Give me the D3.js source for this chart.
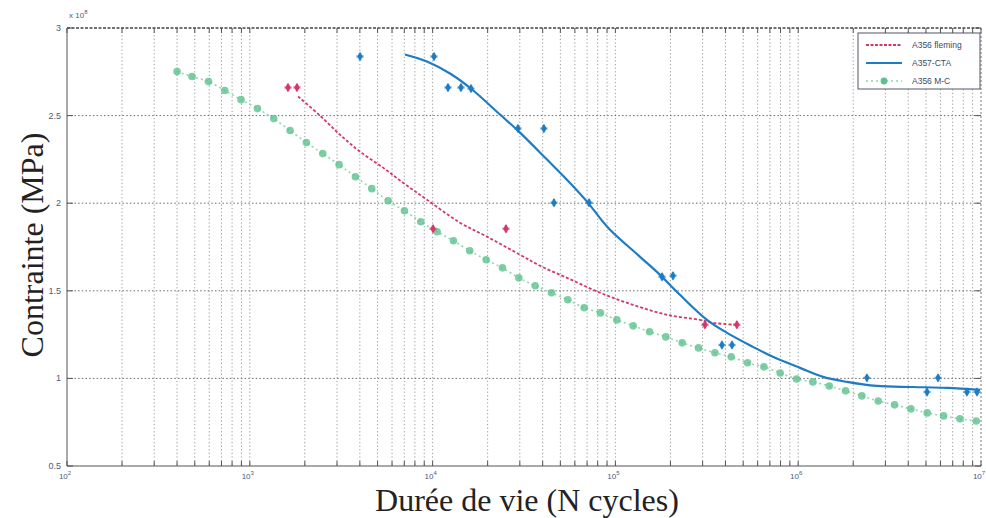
<!DOCTYPE html>
<html>
<head>
<meta charset="utf-8">
<script src="https://cdn.jsdelivr.net/npm/d3@7"></script>
<style>
  html, body { margin: 0; padding: 0; background: #fff; }
  svg { display: block; }
</style>
</head>
<body>
<svg id="chart" width="986" height="518"></svg>
<script>
// ---- data (stress in units of 10^8, N in cycles) ----
const seriesNames = ["A356 fleming", "A357-CTA", "A356 M-C"];

// A356 M-C (green, dotted with markers)
const mcN = [400, 483, 594, 730, 896, 1101, 1352, 1661, 2040, 2506,
  3080, 3783, 4647, 5710, 7015, 8617, 10590, 13000, 15970, 19630,
  24110, 29620, 36390, 44700, 54920, 67470, 82880, 101800, 125100, 153700,
  188800, 231900, 285000, 350100, 430100, 528400, 649100, 797400, 979600, 1203000,
  1479000, 1816000, 2231000, 2741000, 3367000, 4136000, 5081000, 6242000, 7668000, 9420000];
const mcS = [2.751, 2.723, 2.694, 2.643, 2.591, 2.540, 2.483, 2.415, 2.346, 2.283,
  2.220, 2.151, 2.083, 2.014, 1.957, 1.894, 1.837, 1.786, 1.729, 1.677,
  1.631, 1.574, 1.529, 1.489, 1.449, 1.403, 1.374, 1.334, 1.300, 1.266,
  1.237, 1.203, 1.174, 1.146, 1.123, 1.089, 1.066, 1.031, 0.997, 0.980,
  0.957, 0.929, 0.900, 0.871, 0.849, 0.826, 0.803, 0.786, 0.769, 0.757];

// A356 fleming (red) fitted curve
const flCurveN = [1837, 2421, 3113, 4009, 5355, 6887, 9313, 14120, 19850, 30070,
  38700, 54330, 82370, 124800, 191500, 290300, 342000, 462500];
const flCurveS = [2.609, 2.500, 2.391, 2.294, 2.203, 2.117, 2.020, 1.889, 1.809, 1.706,
  1.643, 1.574, 1.489, 1.420, 1.363, 1.334, 1.317, 1.306];
// A356 fleming test points
const flPtsN = [1618, 1812, 10050, 25200, 309000, 462000];
const flPtsS = [2.66, 2.66, 1.854, 1.854, 1.306, 1.306];

// A357-CTA (blue) fitted curve
const ctaCurveN = [7063, 9313, 12450, 16430, 23380, 30070, 42260, 54330, 69960, 91200,
  136400, 175400, 225500, 316900, 408000, 566000, 727800, 1023000, 1367000, 1849000,
  2698000, 4246000, 6516000, 9880000];
const ctaCurveS = [2.849, 2.809, 2.740, 2.649, 2.506, 2.403, 2.249, 2.134, 2.009, 1.860,
  1.694, 1.591, 1.477, 1.334, 1.260, 1.180, 1.123, 1.060, 1.009, 0.980,
  0.957, 0.951, 0.946, 0.934];
// A357-CTA test points
const ctaPtsN = [4009, 10180, 12140, 14290, 16220, 29310, 40650, 46130, 71750, 179900,
  206600, 382800, 434500, 2377000, 5069000, 5821000, 8380000, 9510000];
const ctaPtsS = [2.837, 2.837, 2.66, 2.66, 2.654, 2.426, 2.426, 2.003, 2.003, 1.58,
  1.586, 1.191, 1.191, 1.003, 0.923, 1.003, 0.923, 0.923];

const yTicks = [0.5, 1, 1.5, 2, 2.5, 3];
const yTickLabels = ["0.5", "1", "1.5", "2", "2.5", "3"];
const xDecades = [2, 3, 4, 5, 6, 7];

// ---- layout ----
const svg = d3.select("#chart");
const L = 67, R = 981, T = 28, B = 466;
const x = d3.scaleLog().domain([1e2, 1e7]).range([L, R]);
const y = d3.scaleLinear().domain([0.5, 3]).range([B, T]);

const colRed = "#d4386a", colBlue = "#1d7cc4", colGreen = "#5cc18f", colGreenLine = "#8fd8b2";

// grid
const xt = x.ticks();
svg.append("g").selectAll("line").data(xt.filter(d => d > 1e2 && d < 1e7)).join("line")
  .attr("x1", d => x(d)).attr("x2", d => x(d)).attr("y1", T).attr("y2", B)
  .attr("stroke", "#999").attr("stroke-width", 1).attr("stroke-dasharray", "1.2,2.4");
svg.append("g").selectAll("line").data(yTicks.filter(d => d > 0.5 && d < 3)).join("line")
  .attr("x1", L).attr("x2", R).attr("y1", d => y(d)).attr("y2", d => y(d))
  .attr("stroke", "#6a6a6a").attr("stroke-width", 1).attr("stroke-dasharray", "1.5,2.2");

// frame
svg.append("line").attr("x1", L).attr("x2", L).attr("y1", T).attr("y2", B).attr("stroke", "#555").attr("stroke-width", 1);
svg.append("line").attr("x1", L).attr("x2", R).attr("y1", B).attr("y2", B).attr("stroke", "#555").attr("stroke-width", 1.2);
svg.append("line").attr("x1", L).attr("x2", R).attr("y1", T).attr("y2", T).attr("stroke", "#444").attr("stroke-width", 1.6).attr("stroke-dasharray", "3,1.5");
svg.append("line").attr("x1", R).attr("x2", R).attr("y1", T).attr("y2", B).attr("stroke", "#777").attr("stroke-width", 1).attr("stroke-dasharray", "2,2");

// ticks
const tk = svg.append("g").attr("stroke", "#555").attr("stroke-width", 1);
xt.forEach(d => {
  tk.append("line").attr("x1", x(d)).attr("x2", x(d)).attr("y1", B).attr("y2", B - 5);
  tk.append("line").attr("x1", x(d)).attr("x2", x(d)).attr("y1", T).attr("y2", T + 5);
});
yTicks.forEach(d => {
  tk.append("line").attr("x1", L).attr("x2", L + 6).attr("y1", y(d)).attr("y2", y(d));
  tk.append("line").attr("x1", R).attr("x2", R - 6).attr("y1", y(d)).attr("y2", y(d));
});

// tick labels
svg.append("g").selectAll("text").data(yTicks).join("text")
  .attr("x", L - 6).attr("y", d => y(d) + 3)
  .attr("text-anchor", "end").attr("font-family", "Arial, 'Liberation Sans', sans-serif")
  .attr("font-size", 9).attr("fill", "#4a5a78")
  .text((d, i) => yTickLabels[i]);

const xl = svg.append("g").selectAll("text").data(xDecades).join("text")
  .attr("x", d => x(Math.pow(10, d)) - 2).attr("y", B + 13)
  .attr("text-anchor", "middle").attr("font-family", "Arial, 'Liberation Sans', sans-serif")
  .attr("font-size", 8).attr("fill", "#4a5a78");
xl.append("tspan").text("10");
xl.append("tspan").attr("dy", -4).attr("font-size", 6).text(d => d);

// multiplier
const mult = svg.append("text").attr("x", L + 2).attr("y", T - 10)
  .attr("font-family", "Arial, 'Liberation Sans', sans-serif").attr("font-size", 8).attr("fill", "#4a5a78");
mult.append("tspan").text("x 10");
mult.append("tspan").attr("dy", -4).attr("font-size", 6).text("8");

// axis titles
svg.append("text").attr("x", 527).attr("y", 511).attr("text-anchor", "middle")
  .attr("font-family", "'Liberation Serif', 'DejaVu Serif', serif").attr("font-size", 32).attr("fill", "#222")
  .text("Durée de vie (N cycles)");
svg.append("text").attr("transform", "translate(43,245) rotate(-90)").attr("text-anchor", "middle")
  .attr("font-family", "'Liberation Serif', 'DejaVu Serif', serif").attr("font-size", 32).attr("fill", "#222")
  .text("Contrainte (MPa)");

// series
const line = d3.line().x(d => x(d[0])).y(d => y(d[1])).curve(d3.curveCatmullRom);

const mcData = mcN.map((n, i) => [n, mcS[i]]);
svg.append("path").datum(mcData).attr("d", line).attr("fill", "none")
  .attr("stroke", colGreenLine).attr("stroke-width", 1.6).attr("stroke-dasharray", "2,3");
svg.append("g").selectAll("circle").data(mcData).join("circle")
  .attr("cx", d => x(d[0])).attr("cy", d => y(d[1])).attr("r", 3.8)
  .attr("fill", colGreen).attr("fill-opacity", 0.8);

const flData = flCurveN.map((n, i) => [n, flCurveS[i]]);
svg.append("path").datum(flData).attr("d", line).attr("fill", "none")
  .attr("stroke", colRed).attr("stroke-width", 1.8).attr("stroke-dasharray", "3,2");

const ctaData = ctaCurveN.map((n, i) => [n, ctaCurveS[i]]);
svg.append("path").datum(ctaData).attr("d", line).attr("fill", "none")
  .attr("stroke", colBlue).attr("stroke-width", 2.2);

const diamond = d3.symbol().type(d3.symbolDiamond).size(26);
const cross = d3.symbol().type(d3.symbolCross).size(30);
function pts(N, S, col) {
  const g = svg.append("g");
  const data = N.map((n, i) => [n, S[i]]);
  g.selectAll("path.d").data(data).join("path").attr("class", "d")
    .attr("transform", d => `translate(${x(d[0])},${y(d[1])})`).attr("d", diamond).attr("fill", col);
  g.selectAll("path.c").data(data).join("path").attr("class", "c")
    .attr("transform", d => `translate(${x(d[0])},${y(d[1])})`).attr("d", cross).attr("fill", col).attr("fill-opacity", 0.55);
}
pts(flPtsN, flPtsS, colRed);
pts(ctaPtsN, ctaPtsS, colBlue);

// legend
const lg = svg.append("g");
lg.append("rect").attr("x", 858).attr("y", 33).attr("width", 122).attr("height", 56)
  .attr("fill", "#fff").attr("stroke", "#556").attr("stroke-width", 1);
const rows = [45, 63, 81];
lg.append("line").attr("x1", 866).attr("x2", 902).attr("y1", rows[0]).attr("y2", rows[0])
  .attr("stroke", colRed).attr("stroke-width", 1.8).attr("stroke-dasharray", "3,1.5");
lg.append("line").attr("x1", 866).attr("x2", 902).attr("y1", rows[1]).attr("y2", rows[1])
  .attr("stroke", colBlue).attr("stroke-width", 2);
lg.append("line").attr("x1", 866).attr("x2", 902).attr("y1", rows[2]).attr("y2", rows[2])
  .attr("stroke", colGreenLine).attr("stroke-width", 1.6).attr("stroke-dasharray", "2,3");
lg.append("circle").attr("cx", 884).attr("cy", rows[2]).attr("r", 3.4).attr("fill", colGreen);
lg.selectAll("text").data(seriesNames).join("text")
  .attr("x", 912).attr("y", (d, i) => rows[i] + 3)
  .attr("font-family", "Arial, 'Liberation Sans', sans-serif").attr("font-size", 8.5).attr("fill", "#3a4a68")
  .text(d => d);
</script>
</body>
</html>
